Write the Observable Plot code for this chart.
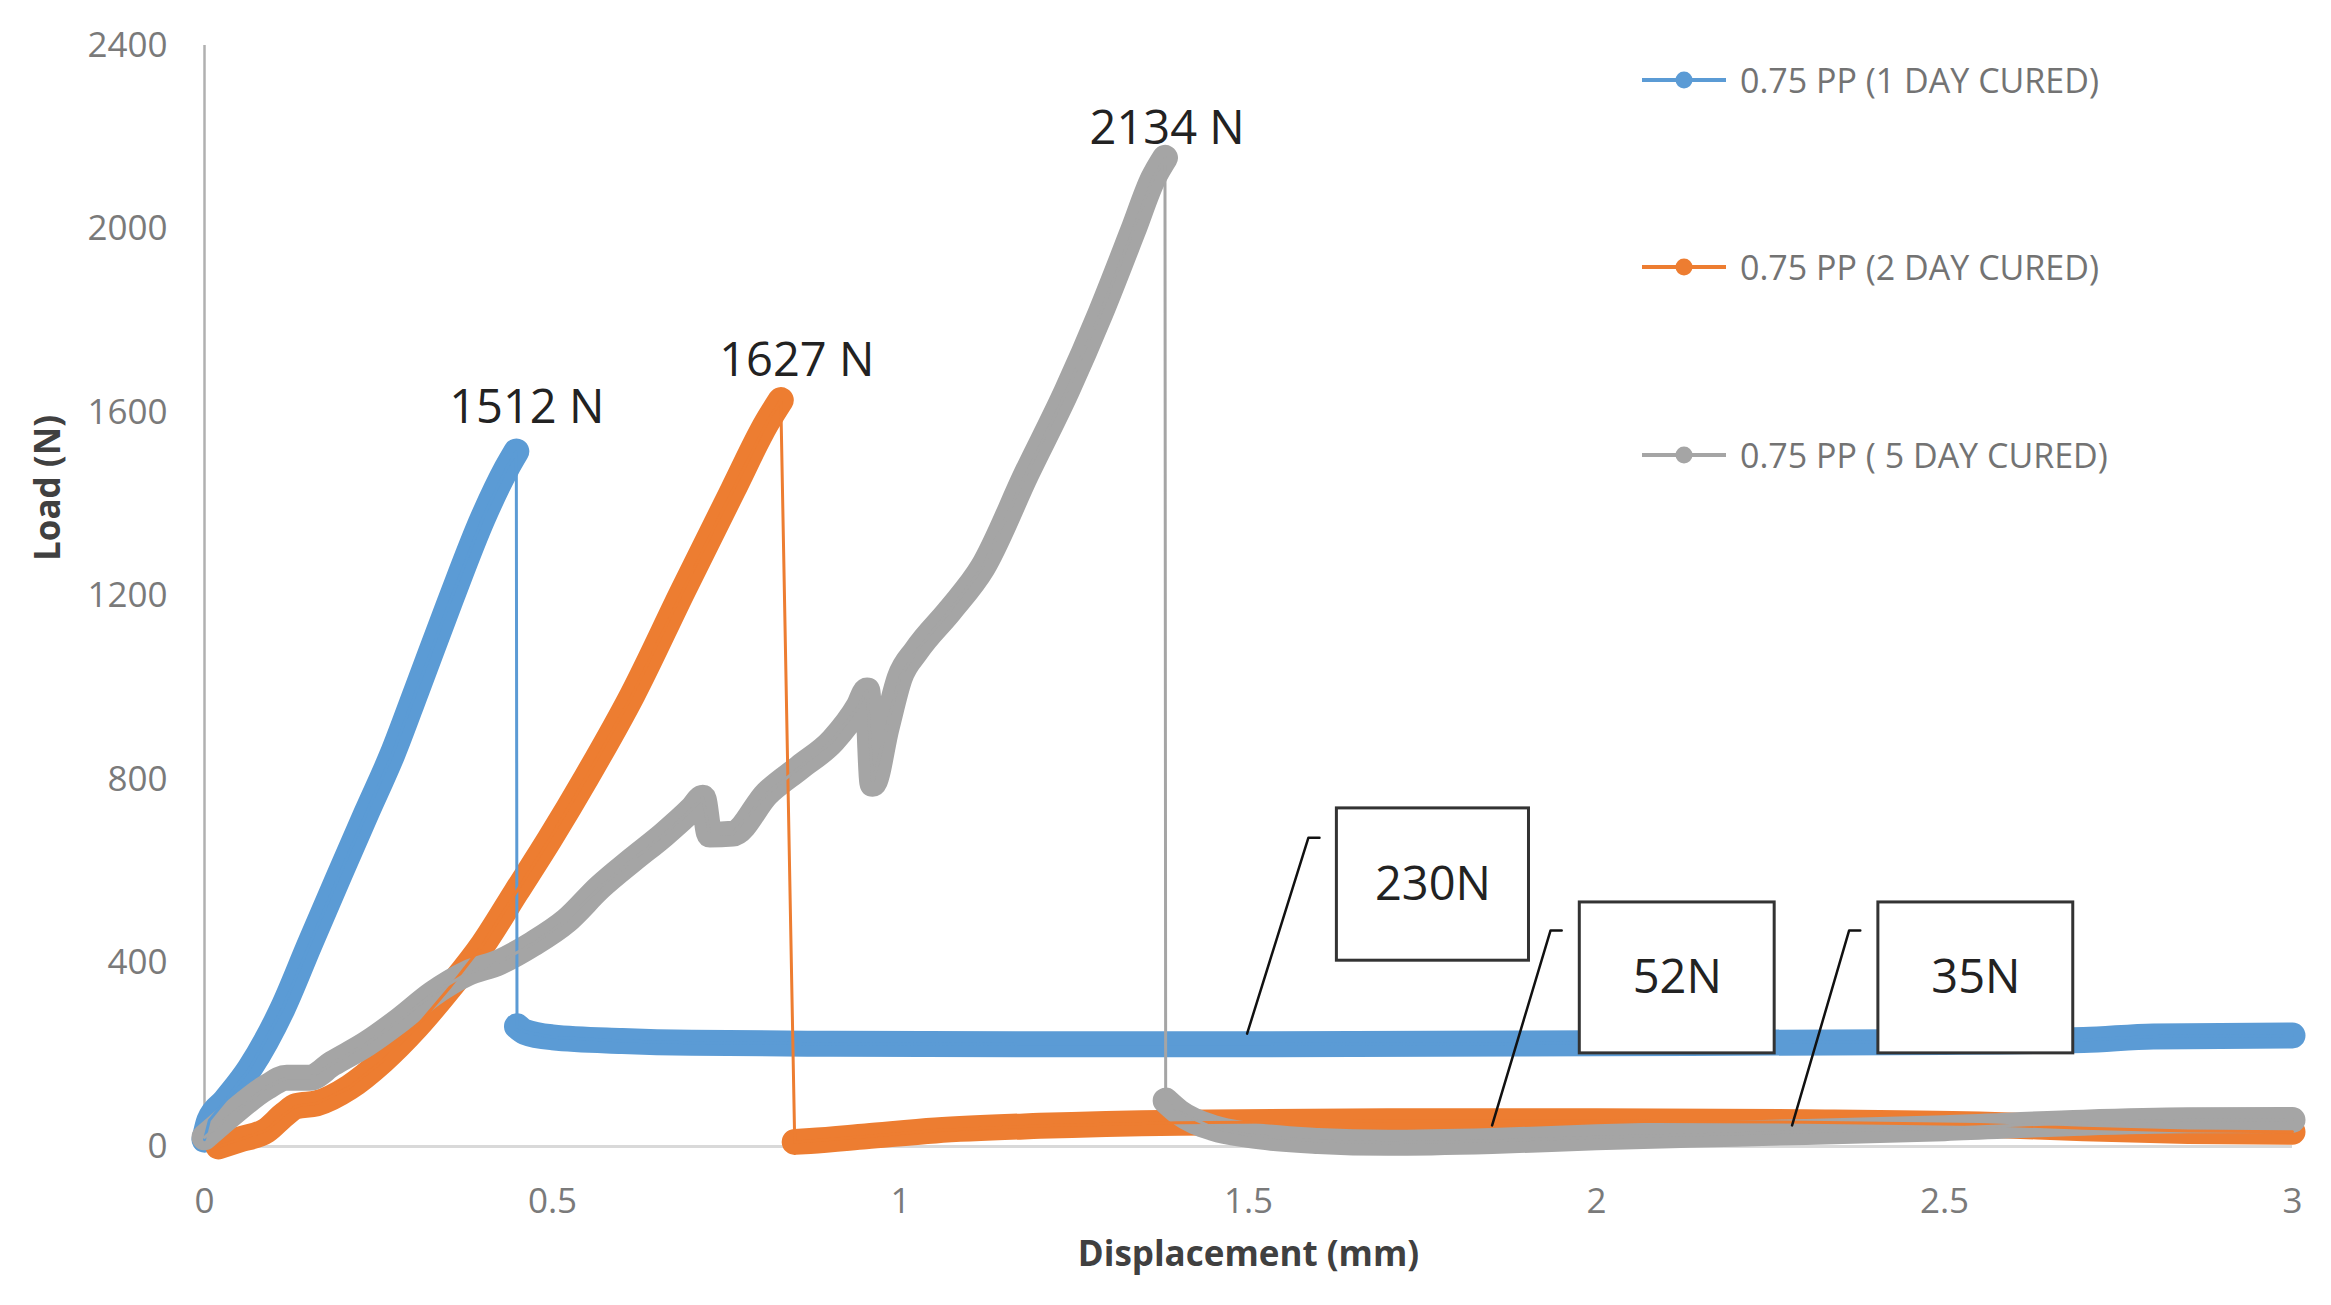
<!DOCTYPE html>
<html><head><meta charset="utf-8">
<script src="https://cdn.jsdelivr.net/npm/d3@7"></script>
<script src="https://cdn.jsdelivr.net/npm/@observablehq/plot@0.6"></script>
<style>
html,body{margin:0;padding:0;background:#fff;}
#wrap{position:relative;width:2331px;height:1305px;overflow:hidden;}
#legend{position:absolute;left:0;top:0;font-family:"Open Sans",sans-serif;font-size:34px;color:#737373;}
.row{position:absolute;display:flex;align-items:center;white-space:nowrap;height:50px;}
.row svg{display:block;margin-right:14px;}
</style></head><body><div id="wrap"></div>
<script>
// ---- Data ----
const seriesNames = ["0.75 PP (1 DAY CURED)", "0.75 PP (2 DAY CURED)", "0.75 PP ( 5 DAY CURED)"];
const seriesColors = ["#5B9BD5", "#ED7D31", "#A5A5A5"];

// 1 day cured
const disp1 = [0, 0.007, 0.03, 0.065, 0.112, 0.151, 0.194, 0.233, 0.27, 0.305, 0.352, 0.40, 0.434, 0.448,
  0.449, 0.46, 0.5, 0.6, 0.7, 0.9, 1.2, 1.5, 2.0, 2.5, 2.7, 2.8, 3.0];
const load1 = [15, 57, 100, 170, 300, 440, 592, 728, 855, 995, 1185, 1370, 1478, 1515,
  262, 250, 238, 230, 226, 224, 223, 223, 225, 228, 232, 240, 242];

// 2 day cured
const disp2 = [0.02, 0.05, 0.089, 0.115, 0.132, 0.161, 0.208, 0.256, 0.304, 0.352, 0.40, 0.448, 0.496, 0.549,
  0.615, 0.687, 0.759, 0.808, 0.828,
  0.848, 0.87, 0.95, 1.05, 1.2, 1.4, 1.7, 2.0, 2.3, 2.55, 2.7, 2.85, 3.0];
const load2 = [0, 15, 35, 70, 88, 94, 129, 187, 260, 346, 440, 555, 670, 805,
  985, 1210, 1430, 1578, 1627,
  10, 12, 22, 35, 45, 52, 55, 55, 53, 48, 40, 34, 32];

// 5 day cured
const disp5 = [0, 0.04, 0.089, 0.118, 0.151, 0.184, 0.233, 0.28, 0.328, 0.377, 0.424, 0.472, 0.52, 0.568,
  0.615, 0.66, 0.70, 0.716, 0.726, 0.759, 0.808, 0.855, 0.903, 0.94, 0.952, 0.96, 0.98, 0.999, 1.023,
  1.071, 1.118, 1.181, 1.239, 1.287, 1.334, 1.363, 1.38,
  1.381, 1.40, 1.45, 1.5, 1.6, 1.7, 1.85, 2.0, 2.2, 2.5, 2.7, 2.85, 3.0];
const load5 = [20, 72, 129, 150, 150, 181, 224, 275, 333, 377, 402, 442, 492, 565,
  625, 680, 735, 760, 680, 682, 769, 826, 885, 960, 994, 791, 913, 1022, 1081,
  1168, 1262, 1466, 1647, 1815, 1996, 2110, 2155,
  100, 75, 40, 25, 12, 8, 12, 20, 28, 40, 52, 57, 58];

const xTicks = [0, 0.5, 1, 1.5, 2, 2.5, 3];
const yTicks = [0, 400, 800, 1200, 1600, 2000, 2400];

// Peak annotations
const peakLabels = ["1512 N", "1627 N", "2134 N"];
const peakX = [0.463, 0.851, 1.383];
const peakY = [1578, 1680, 2186];

// Residual-load callouts
const boxLabels = ["230N", "52N", "35N"];
const boxX1 = [1.627, 1.976, 2.405];
const boxX2 = [1.903, 2.256, 2.685];
const boxY1 = [405, 203, 203];
const boxY2 = [737, 532, 532];
const leadX0 = [1.498, 1.850, 2.281];
const leadY0 = [246, 46, 46];
const leadX1 = [1.586, 1.934, 2.363];
const leadY1 = [673, 471, 471];
const leadX2 = [1.602, 1.950, 2.379];

// ---- Build tables ----
const allDisp = [disp1, disp2, disp5];
const allLoad = [load1, load2, load5];
const rows = [];
allDisp.forEach((xs, s) => {
  let seg = 0;
  xs.forEach((x, i) => {
    if (i > 0 && allLoad[s][i - 1] - allLoad[s][i] > 500) seg++;
    rows.push({x, y: allLoad[s][i], series: seriesNames[s], key: s + "-" + seg});
  });
});
const boxes = boxLabels.map((t, i) => ({t, x1: boxX1[i], x2: boxX2[i], y1: boxY1[i], y2: boxY2[i], cx: (boxX1[i] + boxX2[i]) / 2, cy: (boxY1[i] + boxY2[i]) / 2}));
const leaders = [];
boxLabels.forEach((t, i) => {
  leaders.push({k: i, x: leadX0[i], y: leadY0[i]});
  leaders.push({k: i, x: leadX1[i], y: leadY1[i]});
  leaders.push({k: i, x: leadX2[i], y: leadY1[i]});
});
const peaks = peakLabels.map((t, i) => ({t, x: peakX[i], y: peakY[i]}));

const color = {domain: seriesNames, range: seriesColors};

const chart = Plot.plot({
  width: 2331,
  height: 1305,
  marginLeft: 204,
  marginRight: 39,
  marginTop: 45,
  marginBottom: 159,
  style: {fontFamily: "'Open Sans', sans-serif", fontSize: "35px", color: "#7a7a7a", background: "white"},
  x: {domain: [0, 3]},
  y: {domain: [0, 2400]},
  color,
  marks: [
    Plot.ruleY([0], {stroke: "#d9d9d9", strokeWidth: 3}),
    Plot.ruleX([0], {stroke: "#b0b0b0", strokeWidth: 2.5}),
    Plot.axisX({ticks: xTicks, tickSize: 0, tickPadding: 42, tickFormat: d => String(d), label: null}),
    Plot.axisY({ticks: yTicks, tickSize: 0, tickPadding: 37, tickFormat: d => String(d), label: null}),
    Plot.line(rows, {x: "x", y: "y", z: "key", stroke: "series", strokeWidth: 26, curve: "monotone-x", strokeLinecap: "round", strokeLinejoin: "round"}),
    Plot.line(rows, {x: "x", y: "y", z: "series", stroke: "series", strokeWidth: 3, curve: "linear"}),
    Plot.text(peaks, {x: "x", y: "y", text: "t", textAnchor: "middle", lineAnchor: "bottom", fontSize: 47, fill: "#222"}),
    Plot.line(leaders, {x: "x", y: "y", z: "k", stroke: "#111", strokeWidth: 2.5}),
    Plot.rect(boxes, {x1: "x1", x2: "x2", y1: "y1", y2: "y2", fill: "white", stroke: "#333", strokeWidth: 3}),
    Plot.text(boxes, {x: "cx", y: "cy", text: "t", textAnchor: "middle", lineAnchor: "middle", fontSize: 47, fill: "#222"}),
    Plot.text(["Load (N)"], {frameAnchor: "left", dx: -156, dy: -35, rotate: -90, fontWeight: "bold", fontSize: 35, fill: "#404040"}),
    Plot.text(["Displacement (mm)"], {frameAnchor: "bottom", dy: 119, fontWeight: "bold", fontSize: 35, fill: "#404040"})
  ]
});

const wrap = document.getElementById("wrap");
wrap.appendChild(chart);

// ---- Legend (overlay at upper right) ----
const legendRowsY = [80, 267, 455];
const legend = d3.select(wrap).append("div").attr("id", "legend");
seriesNames.forEach((name, i) => {
  const row = legend.append("div").attr("class", "row")
    .style("left", "1642px").style("top", (legendRowsY[i] - 25) + "px");
  const sw = row.append("svg").attr("width", 84).attr("height", 20);
  sw.append("line").attr("x1", 0).attr("x2", 84).attr("y1", 10).attr("y2", 10)
    .attr("stroke", seriesColors[i]).attr("stroke-width", 4);
  sw.append("circle").attr("cx", 42).attr("cy", 10).attr("r", 8.5).attr("fill", seriesColors[i]);
  row.append("span").text(name);
});
</script>
</body></html>
